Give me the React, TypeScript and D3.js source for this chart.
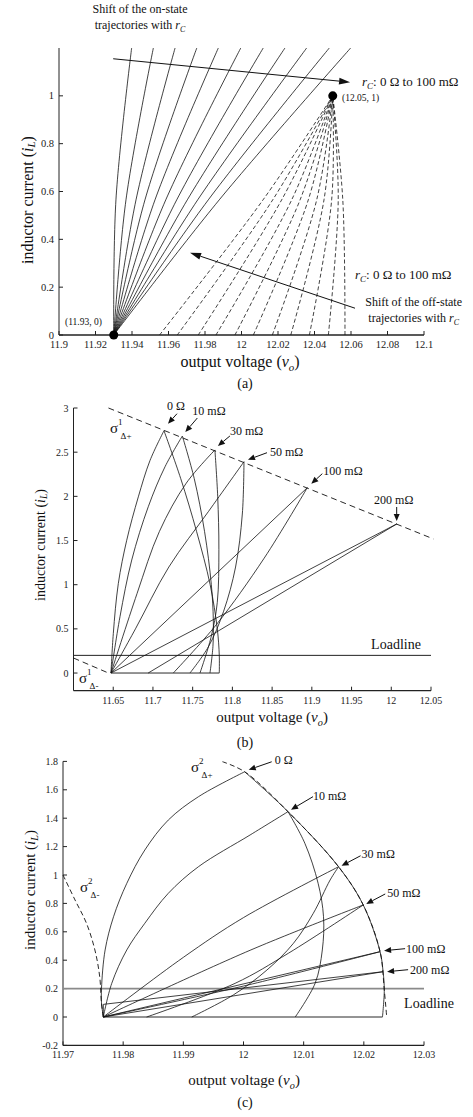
import React from "react";
import * as d3 from "d3";

const FONT = "'Liberation Serif', 'DejaVu Serif', serif";
type Pt = [number, number];

// ---- panel (a): trajectories for rC = 0 .. 100 mOhm
const aStart: Pt = [11.93, 0];
const aEnd: Pt = [12.05, 1];
const aOnMidI = 0.565;
const aOnTopI = 1.2;
const aOnMid = [11.9312, 11.9367, 11.9422, 11.9471, 11.9526, 11.9585, 11.9645, 11.9703, 11.976, 11.9818, 11.9878];
const aOnTop = [11.9398, 11.9517, 11.9636, 11.9755, 11.9873, 11.9996, 12.0119, 12.0238, 12.0357, 12.0481, 12.0598];
const aOffBottom = [11.9551, 11.9648, 11.9763, 11.986, 11.9964, 12.0065, 12.0169, 12.027, 12.0372, 12.0476, 12.0567];
const aOffMid = [12.0118, 12.0171, 12.022, 12.0275, 12.0321, 12.0366, 12.0412, 12.0452, 12.0494, 12.053, 12.0555];
const aXTicks = [11.9, 11.92, 11.94, 11.96, 11.98, 12, 12.02, 12.04, 12.06, 12.08, 12.1];
const aYTicks = [0, 0.2, 0.4, 0.6, 0.8, 1];
const aArrowOn: Pt[] = [[11.9297, 1.155], [12.0595, 1.057]];
const aArrowOff: Pt[] = [[12.0622, 0.112], [11.9718, 0.344]];

// ---- panel (b)
const rcLabels = ["0 Ω", "10 mΩ", "30 mΩ", "50 mΩ", "100 mΩ", "200 mΩ"];
const bOn: Pt[][] = [
  [[11.6472, 0], [11.6501, 0.446], [11.6564, 1.012], [11.667, 1.503], [11.6816, 1.994], [11.6963, 2.406], [11.7139, 2.743]],
  [[11.6472, 0], [11.6585, 0.637], [11.6733, 1.279], [11.6941, 1.882], [11.7152, 2.335], [11.737, 2.683]],
  [[11.6472, 0], [11.68, 0.9], [11.708, 1.6], [11.742, 2.15], [11.778, 2.525]],
  [[11.6472, 0], [11.678, 0.5], [11.72, 1.2], [11.77, 1.83], [11.8146, 2.392]],
  [[11.6472, 0], [11.8943, 2.098]],
  [[11.6472, 0], [12.0068, 1.687]],
];
const bOff: Pt[][] = [
  [[11.7139, 2.743], [11.735, 2.2], [11.755, 1.6], [11.772, 1.0], [11.781, 0.5], [11.7835, 0.2], [11.7835, 0]],
  [[11.737, 2.683], [11.752, 2.2], [11.765, 1.6], [11.7735, 1.0], [11.776, 0.6], [11.7755, 0.3], [11.7718, 0]],
  [[11.778, 2.525], [11.7815, 2.0], [11.783, 1.4], [11.781, 0.8], [11.773, 0.4], [11.7592, 0]],
  [[11.8146, 2.392], [11.8125, 1.8], [11.804, 1.2], [11.789, 0.7], [11.77, 0.3], [11.7466, 0]],
  [[11.8943, 2.098], [11.84, 1.3], [11.78, 0.55], [11.7256, 0]],
  [[12.0068, 1.687], [11.694, 0]],
];
const bFloor: Pt[] = [[11.6472, 0], [11.7835, 0]];
const bSigmaPlus: Pt[] = [[11.644, 3], [12.053, 1.518]];
const bSigmaMinus: Pt[] = [[11.6, 0.17], [11.644, 0]];
const bLoad = 0.2;
const bXTicks = [11.65, 11.7, 11.75, 11.8, 11.85, 11.9, 11.95, 12, 12.05];
const bYTicks = [0, 0.5, 1, 1.5, 2, 2.5, 3];
// label offsets (px) from the peak: text, arrow tail, arrow tip
const bLabelPos = [
  { t: [3, -21], a: [13, -17], b: [4, -7], anchor: "start" },
  { t: [10, -21], a: [15, -18], b: [3, -4], anchor: "start" },
  { t: [15, -15], a: [15, -14], b: [3, -4], anchor: "start" },
  { t: [26, -6], a: [23, -9], b: [4, -2], anchor: "start" },
  { t: [16, -13], a: [15, -14], b: [4, -4], anchor: "start" },
  { t: [-3, -20], a: [0, -17], b: [0, -3], anchor: "middle" },
];

// ---- panel (c)
const cOn: Pt[][] = [
  [[11.9767, 0], [11.9764, 0.1], [11.9764, 0.202], [11.977, 0.472], [11.9784, 0.706], [11.9806, 0.941], [11.9836, 1.176], [11.9875, 1.387], [11.9925, 1.551], [12.0002, 1.727]],
  [[11.9767, 0], [11.9781, 0.237], [11.9806, 0.472], [11.9836, 0.66], [11.9875, 0.871], [11.9925, 1.058], [12.0011, 1.282], [12.0074, 1.446]],
  [[11.9767, 0], [11.99, 0.42], [12.0, 0.7], [12.0158, 1.058]],
  [[11.9767, 0], [12.0011, 0.47], [12.0199, 0.789]],
  [[11.9767, 0], [12.0227, 0.46]],
  [[11.9767, 0], [12.0232, 0.319]],
];
const cOff: Pt[][] = [
  [[12.0002, 1.727], [12.0074, 1.446], [12.0158, 1.058], [12.0199, 0.789], [12.0227, 0.46], [12.0232, 0.319], [12.0234, 0.19], [12.0231, 0]],
  [[12.0074, 1.446], [12.0102, 1.223], [12.0124, 0.942], [12.0133, 0.706], [12.0131, 0.472], [12.0119, 0.237], [12.0086, 0]],
  [[12.0158, 1.058], [12.0144, 0.965], [12.0116, 0.73], [12.0083, 0.519], [12.0039, 0.331], [11.9983, 0.155], [11.9914, 0]],
  [[12.0199, 0.789], [12.0075, 0.45], [11.9986, 0.237], [11.9839, 0]],
  [[12.0227, 0.46], [12.0, 0.218], [11.9767, 0]],
  [[12.0232, 0.319], [11.9767, 0.089], [11.9767, 0]],
];
const cFloor: Pt[] = [[11.9767, 0], [12.0231, 0]];
const cSigmaPlus: Pt[] = [[11.9965, 1.798], [12.0002, 1.727], [12.0074, 1.446], [12.0158, 1.058], [12.0199, 0.789], [12.0227, 0.46], [12.0234, 0.19], [12.0238, 0]];
const cSigmaMinus: Pt[] = [[11.97, 1.0], [11.972, 0.824], [11.9739, 0.66], [11.9753, 0.472], [11.9761, 0.284], [11.9764, 0.096], [11.9767, 0]];
const cLoad = 0.2;
const cXTicks = [11.97, 11.98, 11.99, 12, 12.01, 12.02, 12.03];
const cYTicks = [-0.2, 0, 0.2, 0.4, 0.6, 0.8, 1, 1.2, 1.4, 1.6, 1.8];
const cLabelPos = [
  { t: [30, -8], a: [27, -10], b: [4, -2] },
  { t: [25, -12], a: [25, -15], b: [3, -2] },
  { t: [23, -9], a: [22, -11], b: [3, -1] },
  { t: [24, -8], a: [22, -11], b: [3, -1] },
  { t: [26, 1], a: [25, -3], b: [4, -1] },
  { t: [27, 2], a: [25, -2], b: [4, 0] },
];

const xA = d3.scaleLinear().domain([11.9, 12.1]).range([59, 424]);
const yA = d3.scaleLinear().domain([0, 1.2]).range([335, 48]);
const xB = d3.scaleLinear().domain([11.6, 12.05]).range([73.5, 431]);
const yB = d3.scaleLinear().domain([-0.2, 3]).range([690.7, 408]);
const xC = d3.scaleLinear().domain([11.97, 12.03]).range([63, 424]);
const yC = d3.scaleLinear().domain([-0.2, 1.8]).range([1045.4, 761.4]);

const fmt = (v: number) => String(+v.toFixed(2));

function mkLine(x: any, y: any, curved = true) {
  const l = d3.line<Pt>().x((d) => x(d[0])).y((d) => y(d[1]));
  return curved ? l.curve(d3.curveCatmullRom.alpha(0.5)) : l;
}

function Arrow({ x1, y1, x2, y2, len = 8, w = 3 }: any) {
  const ang = Math.atan2(y2 - y1, x2 - x1);
  const bx = x2 - len * Math.cos(ang);
  const by = y2 - len * Math.sin(ang);
  const px = -Math.sin(ang) * w;
  const py = Math.cos(ang) * w;
  return (
    <g>
      <line x1={x1} y1={y1} x2={bx} y2={by} stroke="#111" strokeWidth={1} />
      <polygon points={`${x2},${y2} ${bx + px},${by + py} ${bx - px},${by - py}`} fill="#111" />
    </g>
  );
}

function Axes({ x, y, xTicks, yTicks, tickFont = 10.5 }: any) {
  const [x0, x1] = x.range();
  const [y0, y1] = y.range();
  return (
    <g fontFamily={FONT} fontSize={tickFont} fill="#222">
      <line x1={x0} y1={y0} x2={x1} y2={y0} stroke="#222" strokeWidth={1.3} />
      <line x1={x0} y1={y0} x2={x0} y2={y1} stroke="#222" strokeWidth={1} />
      {xTicks.map((t: number) => (
        <g key={"x" + t}>
          <line x1={x(t)} x2={x(t)} y1={y0} y2={y0 - 4} stroke="#222" />
          <text x={x(t)} y={y0 + 13} textAnchor="middle">{fmt(t)}</text>
        </g>
      ))}
      {yTicks.map((t: number) => (
        <g key={"y" + t}>
          <line x1={x0} x2={x0 + 4} y1={y(t)} y2={y(t)} stroke="#222" />
          <text x={x0 - 5} y={y(t) + 3.5} textAnchor="end">{fmt(t)}</text>
        </g>
      ))}
    </g>
  );
}

function YTitle({ x, y, size }: any) {
  return (
    <text transform={`translate(${x},${y}) rotate(-90)`} textAnchor="middle" dominantBaseline="central" fontSize={size} fontFamily={FONT} fill="#111">
      inductor current (<tspan fontStyle="italic">i</tspan>
      <tspan fontStyle="italic" fontSize={size * 0.68} dy={size * 0.25}>L</tspan>
      <tspan dy={-size * 0.25}>)</tspan>
    </text>
  );
}

function XTitle({ x, y, size }: any) {
  return (
    <text x={x} y={y} textAnchor="middle" fontSize={size} fontFamily={FONT} fill="#111">
      output voltage (<tspan fontStyle="italic">v</tspan>
      <tspan fontStyle="italic" fontSize={size * 0.68} dy={size * 0.25}>o</tspan>
      <tspan dy={-size * 0.25}>)</tspan>
    </text>
  );
}

function RcText({ x, y, anchor = "start" }: any) {
  return (
    <text x={x} y={y} textAnchor={anchor} fontSize={13} fontFamily={FONT} fill="#111">
      <tspan fontStyle="italic">r</tspan>
      <tspan fontStyle="italic" fontSize={9} dy={3}>C</tspan>
      <tspan dy={-3}>: 0 Ω to 100 mΩ</tspan>
    </text>
  );
}

function Sigma({ x, y, sup, sub }: any) {
  return (
    <text x={x} y={y} fontSize={15} fontFamily={FONT} fill="#111">
      σ<tspan fontSize={9} dy={-8}>{sup}</tspan>
      <tspan fontSize={9} dx={-2} dy={14}>{sub}</tspan>
    </text>
  );
}

function PanelA() {
  const lc = mkLine(xA, yA);
  return (
    <g>
      <Axes x={xA} y={yA} xTicks={aXTicks} yTicks={aYTicks} />
      {aOnMid.map((m, i) => (
        <path key={"on" + i} d={lc([aStart, [m, aOnMidI], [aOnTop[i], aOnTopI]]) || ""} fill="none" stroke="#111" strokeWidth={0.8} />
      ))}
      {aOffBottom.map((b, i) => (
        <path key={"off" + i} d={lc([[b, 0], [aOffMid[i], aOnMidI], aEnd]) || ""} fill="none" stroke="#111" strokeWidth={0.8} strokeDasharray="4 2.5" />
      ))}
      <circle cx={xA(aStart[0])} cy={yA(aStart[1])} r={4.5} fill="#000" />
      <circle cx={xA(aEnd[0])} cy={yA(aEnd[1])} r={4.5} fill="#000" />
      <Arrow x1={xA(aArrowOn[0][0])} y1={yA(aArrowOn[0][1])} x2={xA(aArrowOn[1][0])} y2={yA(aArrowOn[1][1])} len={11} w={3.5} />
      <Arrow x1={xA(aArrowOff[0][0])} y1={yA(aArrowOff[0][1])} x2={xA(aArrowOff[1][0])} y2={yA(aArrowOff[1][1])} len={11} w={3.5} />
      <g fontFamily={FONT} fill="#111">
        <text x={140} y={13} textAnchor="middle" fontSize={12}>Shift of the on-state</text>
        <text x={140} y={29} textAnchor="middle" fontSize={12}>
          trajectories with <tspan fontStyle="italic">r</tspan>
          <tspan fontStyle="italic" fontSize={8} dy={3}>C</tspan>
        </text>
        <text x={342} y={101} fontSize={9.5}>(12.05, 1)</text>
        <text x={65} y={325} fontSize={9.5}>(11.93, 0)</text>
        <text x={462} y={306} textAnchor="end" fontSize={12}>Shift of the off-state</text>
        <text x={459} y={322} textAnchor="end" fontSize={12}>
          trajectories with <tspan fontStyle="italic">r</tspan>
          <tspan fontStyle="italic" fontSize={8} dy={3}>C</tspan>
        </text>
        <text x={245} y={388} textAnchor="middle" fontSize={14}>(a)</text>
      </g>
      <RcText x={362} y={86} />
      <RcText x={355} y={279} />
      <XTitle x={240} y={367} size={16} />
      <YTitle x={27} y={200} size={16} />
    </g>
  );
}

function PanelB() {
  const lc = mkLine(xB, yB);
  const ll = mkLine(xB, yB, false);
  return (
    <g>
      <Axes x={xB} y={yB} xTicks={bXTicks} yTicks={bYTicks} tickFont={10} />
      <path d={ll(bSigmaPlus) || ""} fill="none" stroke="#111" strokeWidth={0.9} strokeDasharray="6 4" />
      <path d={ll(bSigmaMinus) || ""} fill="none" stroke="#111" strokeWidth={0.9} strokeDasharray="6 4" />
      <line x1={xB.range()[0]} x2={xB(12.05)} y1={yB(bLoad)} y2={yB(bLoad)} stroke="#222" strokeWidth={1} />
      <path d={ll(bFloor) || ""} fill="none" stroke="#111" strokeWidth={0.9} />
      {bOn.map((p, i) => (
        <path key={"on" + i} d={(p.length > 2 ? lc : ll)(p) || ""} fill="none" stroke="#111" strokeWidth={0.8} />
      ))}
      {bOff.map((p, i) => (
        <path key={"off" + i} d={(p.length > 2 ? lc : ll)(p) || ""} fill="none" stroke="#111" strokeWidth={0.8} />
      ))}
      {bOff.map((p, i) => {
        const px = xB(p[0][0]);
        const py = yB(p[0][1]);
        const o = bLabelPos[i];
        return (
          <g key={"lab" + i}>
            <Arrow x1={px + o.a[0]} y1={py + o.a[1]} x2={px + o.b[0]} y2={py + o.b[1]} len={7} w={3} />
            <text x={px + o.t[0]} y={py + o.t[1]} textAnchor={o.anchor} fontSize={12} fontFamily={FONT} fill="#111">{rcLabels[i]}</text>
          </g>
        );
      })}
      <Sigma x={110} y={433} sup="1" sub="Δ+" />
      <Sigma x={79} y={683} sup="1" sub="Δ-" />
      <text x={396} y={649} textAnchor="middle" fontSize={14} fontFamily={FONT} fill="#111">Loadline</text>
      <XTitle x={272} y={722} size={15} />
      <YTitle x={40} y={545} size={14} />
      <text x={245} y={747} textAnchor="middle" fontSize={14} fontFamily={FONT} fill="#111">(b)</text>
    </g>
  );
}

function PanelC() {
  const lc = mkLine(xC, yC);
  const ll = mkLine(xC, yC, false);
  return (
    <g>
      <Axes x={xC} y={yC} xTicks={cXTicks} yTicks={cYTicks} tickFont={10} />
      <line x1={xC.range()[0]} x2={xC.range()[1]} y1={yC(cLoad)} y2={yC(cLoad)} stroke="#8a8a8a" strokeWidth={1.6} />
      <path d={lc(cSigmaPlus) || ""} fill="none" stroke="#111" strokeWidth={0.9} strokeDasharray="5 3" />
      <path d={lc(cSigmaMinus) || ""} fill="none" stroke="#111" strokeWidth={0.9} strokeDasharray="5 3" />
      <path d={ll(cFloor) || ""} fill="none" stroke="#111" strokeWidth={0.9} />
      {cOn.map((p, i) => (
        <path key={"on" + i} d={(p.length > 2 ? lc : ll)(p) || ""} fill="none" stroke="#111" strokeWidth={0.8} />
      ))}
      {cOff.map((p, i) => (
        <path key={"off" + i} d={(i === 5 ? ll : p.length > 2 ? lc : ll)(p) || ""} fill="none" stroke="#111" strokeWidth={0.8} />
      ))}
      {cOff.map((p, i) => {
        const px = xC(p[0][0]);
        const py = yC(p[0][1]);
        const o = cLabelPos[i];
        return (
          <g key={"lab" + i}>
            <Arrow x1={px + o.a[0]} y1={py + o.a[1]} x2={px + o.b[0]} y2={py + o.b[1]} len={7} w={3} />
            <text x={px + o.t[0]} y={py + o.t[1]} fontSize={12} fontFamily={FONT} fill="#111">{rcLabels[i]}</text>
          </g>
        );
      })}
      <Sigma x={191} y={772} sup="2" sub="Δ+" />
      <Sigma x={80} y={892} sup="2" sub="Δ-" />
      <text x={429} y={1008} textAnchor="middle" fontSize={14} fontFamily={FONT} fill="#111">Loadline</text>
      <XTitle x={244} y={1085} size={15} />
      <YTitle x={30} y={890} size={15} />
      <text x={245} y={1107} textAnchor="middle" fontSize={14} fontFamily={FONT} fill="#111">(c)</text>
    </g>
  );
}

export default function App() {
  return (
    <svg width={473} height={1117} style={{ position: "absolute", left: 0, top: 0, background: "#fff" }}>
      <PanelA />
      <PanelB />
      <PanelC />
    </svg>
  );
}
